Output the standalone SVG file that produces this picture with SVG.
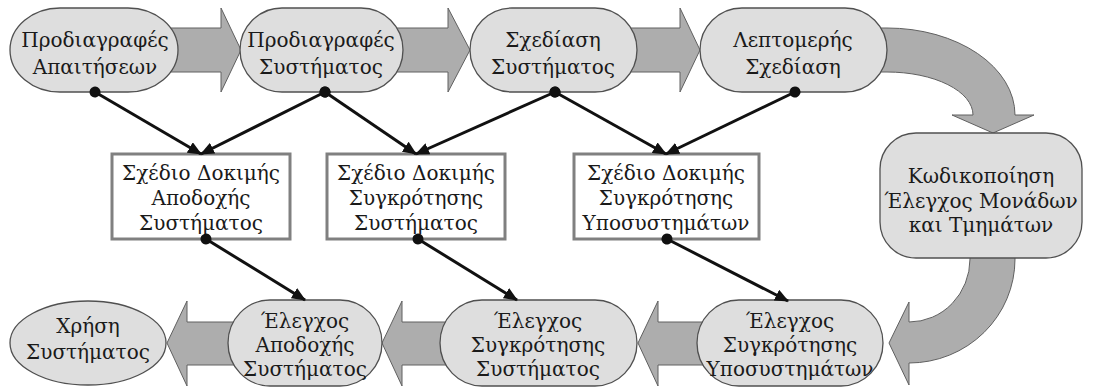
<svg xmlns="http://www.w3.org/2000/svg" width="1094" height="389" viewBox="0 0 1094 389">
  <style>
    .bg { fill: #ffffff; }
    .node { fill: #dedede; stroke: #505050; stroke-width: 1.3; }
    .box { fill: #ffffff; stroke: #808080; stroke-width: 3; }
    .flow { fill: #adadad; stroke: #606060; stroke-width: 1; }
    .lbl { font-family: "DejaVu Serif", "Liberation Serif", serif; font-size: 20px; fill: #1a1a1a; text-anchor: middle; }
    .link { stroke: #111111; stroke-width: 3; fill: none; marker-start: url(#dot); marker-end: url(#head); }
  </style>
  <defs>
    <marker id="head" viewBox="0 0 14 12" refX="13" refY="6" markerWidth="14" markerHeight="12" markerUnits="userSpaceOnUse" orient="auto">
      <path d="M0,0 L14,6 L0,12 Z" fill="#111111"/>
    </marker>
    <marker id="dot" viewBox="0 0 12 12" refX="6" refY="6" markerWidth="12" markerHeight="12" markerUnits="userSpaceOnUse" orient="auto">
      <circle cx="6" cy="6" r="5.5" fill="#111111"/>
    </marker>
  </defs>
  <rect class="bg" x="0" y="0" width="1094" height="389"/>

  <!-- block arrows between the stages -->
  <g id="flow-arrows">
    <path class="flow" d="M170,28 L221,28 L221,8 L241,50 L221,92 L221,72 L170,72 Z"/>
    <path class="flow" d="M396,28 L448,28 L448,8 L470,50 L448,92 L448,72 L396,72 Z"/>
    <path class="flow" d="M630,28 L680,28 L680,8 L700,50 L680,92 L680,72 L630,72 Z"/>
    <path class="flow" d="M870,28 L887,28 A128,87 0 0 1 1015,115 L1034,115 L993,133 L952,115 L973,115 A86,43 0 0 0 887,72 L870,72 Z"/>
    <path class="flow" d="M970,250 L970,259 A61,63 0 0 1 909,322 L909,302 L889,343 L909,385 L909,363 A106,104 0 0 0 1015,259 L1015,250 Z"/>
    <path class="flow" d="M705,322 L658,322 L658,301 L638,343 L658,386 L658,365 L705,365 Z"/>
    <path class="flow" d="M447,322 L402,322 L402,301 L382,343 L402,386 L402,365 L447,365 Z"/>
    <path class="flow" d="M235,322 L187,322 L187,301 L167,343 L187,386 L187,365 L235,365 Z"/>
  </g>

  <!-- top row -->
  <g id="req-spec">
    <rect class="node" x="10" y="8" width="168" height="84" rx="50" ry="42"/>
    <text class="lbl" x="95" y="47">Προδιαγραφές</text>
    <text class="lbl" x="95" y="74">Απαιτήσεων</text>
  </g>
  <g id="sys-spec">
    <rect class="node" x="240" y="8" width="163" height="84" rx="42" ry="42"/>
    <text class="lbl" x="321" y="47">Προδιαγραφές</text>
    <text class="lbl" x="321" y="74">Συστήματος</text>
  </g>
  <g id="sys-design">
    <rect class="node" x="470" y="8" width="167" height="84" rx="42" ry="42"/>
    <text class="lbl" x="553" y="47">Σχεδίαση</text>
    <text class="lbl" x="553" y="74">Συστήματος</text>
  </g>
  <g id="detail-design">
    <rect class="node" x="700" y="8" width="187" height="84" rx="42" ry="42"/>
    <text class="lbl" x="793" y="47">Λεπτομερής</text>
    <text class="lbl" x="793" y="74">Σχεδίαση</text>
  </g>

  <!-- test plans -->
  <g id="plan-acceptance">
    <rect class="box" x="112" y="154" width="178" height="85"/>
    <text class="lbl" x="201" y="180">Σχέδιο Δοκιμής</text>
    <text class="lbl" x="201" y="205">Αποδοχής</text>
    <text class="lbl" x="201" y="230">Συστήματος</text>
  </g>
  <g id="plan-integration">
    <rect class="box" x="327" y="154" width="178" height="85"/>
    <text class="lbl" x="416" y="180">Σχέδιο Δοκιμής</text>
    <text class="lbl" x="416" y="205">Συγκρότησης</text>
    <text class="lbl" x="416" y="230">Συστήματος</text>
  </g>
  <g id="plan-subsystems">
    <rect class="box" x="574" y="154" width="185" height="85"/>
    <text class="lbl" x="666" y="180">Σχέδιο Δοκιμής</text>
    <text class="lbl" x="666" y="205">Συγκρότησης</text>
    <text class="lbl" x="666" y="230">Υποσυστημάτων</text>
  </g>

  <!-- coding -->
  <g id="coding">
    <rect class="node" x="880" y="133" width="202" height="125" rx="36" ry="36"/>
    <text class="lbl" x="981" y="183">Κωδικοποίηση</text>
    <text class="lbl" x="981" y="208">Έλεγχος Μονάδων</text>
    <text class="lbl" x="981" y="232">και Τμημάτων</text>
  </g>

  <!-- bottom row -->
  <g id="test-subsystems">
    <rect class="node" x="697" y="300" width="186" height="86" rx="42" ry="43"/>
    <text class="lbl" x="790" y="328">Έλεγχος</text>
    <text class="lbl" x="790" y="352">Συγκρότησης</text>
    <text class="lbl" x="790" y="376">Υποσυστημάτων</text>
  </g>
  <g id="test-integration">
    <rect class="node" x="440" y="300" width="197" height="86" rx="42" ry="43"/>
    <text class="lbl" x="538" y="328">Έλεγχος</text>
    <text class="lbl" x="538" y="352">Συγκρότησης</text>
    <text class="lbl" x="538" y="376">Συστήματος</text>
  </g>
  <g id="test-acceptance">
    <rect class="node" x="228" y="300" width="154" height="86" rx="42" ry="43"/>
    <text class="lbl" x="305" y="328">Έλεγχος</text>
    <text class="lbl" x="305" y="352">Αποδοχής</text>
    <text class="lbl" x="305" y="376">Συστήματος</text>
  </g>
  <g id="operation">
    <ellipse class="node" cx="88" cy="343" rx="78" ry="42"/>
    <text class="lbl" x="88" y="333">Χρήση</text>
    <text class="lbl" x="88" y="359">Συστήματος</text>
  </g>

  <!-- links from phases to test plans and from plans to tests -->
  <g id="connectors">
    <line class="link" x1="95" y1="92" x2="201" y2="154"/>
    <line class="link" x1="325" y1="92" x2="201" y2="154"/>
    <line class="link" x1="325" y1="92" x2="416" y2="154"/>
    <line class="link" x1="555" y1="92" x2="416" y2="154"/>
    <line class="link" x1="555" y1="92" x2="666" y2="154"/>
    <line class="link" x1="795" y1="92" x2="666" y2="154"/>
    <line class="link" x1="206" y1="239" x2="305" y2="300"/>
    <line class="link" x1="418" y1="239" x2="517" y2="300"/>
    <line class="link" x1="667" y1="239" x2="788" y2="301"/>
  </g>
</svg>
